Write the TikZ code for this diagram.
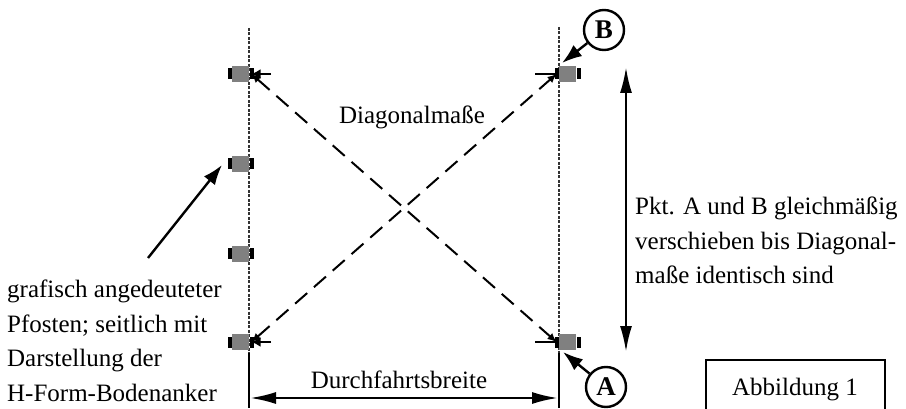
\documentclass[tikz,border=0pt]{standalone}
\usepackage{fontspec}
\setmainfont{Liberation Serif}
\usetikzlibrary{arrows.meta}
\tikzset{
  postbody/.style={shape=rectangle,fill=black!50,draw=none,minimum width=17pt,minimum height=16pt,inner sep=0pt},
  postfoot/.style={shape=rectangle,fill=black,draw=none,minimum width=4pt,minimum height=11pt,inner sep=0pt},
  guide/.style={draw=black!80,line width=1.2pt,dash pattern=on 3pt off 1.5pt},
  rail/.style={draw=black,line width=2.6pt},
  diag/.style={draw=black,line width=2pt,dash pattern=on 16pt off 9pt,{Latex[length=9pt,width=8pt]}-{Latex[length=9pt,width=8pt]}},
  tick/.style={draw=black,line width=2.6pt,-{Latex[length=9pt,width=10pt]}},
  pointer/.style={draw=black,line width=2.4pt,-{Latex[length=20pt,width=14pt]}},
  span/.style={draw=black,line width=2.4pt,{Latex[length=26pt,width=12pt]}-{Latex[length=26pt,width=12pt]}},
  marker/.style={shape=circle,draw=black,line width=2.4pt,minimum size=40pt,inner sep=0pt,font=\fontsize{27}{27}\selectfont\bfseries},
  label/.style={align=left,inner sep=0pt,font=\fontsize{25}{34.5}\selectfont}
}
\begin{document}
\begin{tikzpicture}[x=1pt,y=-1pt]
\useasboundingbox (0,0) rectangle (906,409);
\coordinate (topL) at (249,28);
\coordinate (topR) at (559,27);
\coordinate (midL) at (249,353);
\coordinate (midR) at (559,353);
\coordinate (botL) at (249,408);
\coordinate (botR) at (559,408);
\path [guide] (topL) -- (midL);
\path [guide] (topR) -- (midR);
\path [rail] (midL) -- (botL);
\path [rail] (midR) -- (botR);

\node[postfoot] (footL1a) at (229.5,74) {};
\node[postfoot] (footL1b) at (251.5,74) {};
\node[postbody] (postL1) at (240.5,74) {};
\node[postfoot] (footL2a) at (229.5,164) {};
\node[postfoot] (footL2b) at (251.5,164) {};
\node[postbody] (postL2) at (240.5,164) {};
\node[postfoot] (footL3a) at (229.5,254) {};
\node[postfoot] (footL3b) at (251.5,254) {};
\node[postbody] (postL3) at (240.5,254) {};
\node[postfoot] (footL4a) at (229.5,342) {};
\node[postfoot] (footL4b) at (251.5,342) {};
\node[postbody] (postL4) at (240.5,342) {};
\node[postfoot] (footR1a) at (556.5,74) {};
\node[postfoot] (footR1b) at (578.5,74) {};
\node[postbody] (postR1) at (567.5,74) {};
\node[postfoot] (footR4a) at (556.5,342) {};
\node[postfoot] (footR4b) at (578.5,342) {};
\node[postbody] (postR4) at (567.5,342) {};

\coordinate (tickL1) at (271,74);
\coordinate (tickL4) at (271,342);
\coordinate (tickR1) at (535,74);
\coordinate (tickR4) at (535,342);
\path [tick] (tickL1) -- (footL1b.center);
\path [tick] (tickL4) -- (footL4b.center);
\path [draw=black,line width=2.6pt] (tickR1) -- (footR1a.center);
\path [draw=black,line width=2.6pt] (tickR4) -- (footR4a.center);
\path [diag] (footL1b.center) -- (footR4a.center);
\path [diag] (footL4b.center) -- (footR1a.center);

\node[marker] (markerB) at (604,30) {B};
\node[marker] (markerA) at (606,387) {A};
\coordinate (tipB) at (562,63);
\coordinate (tipA) at (563,352);
\path [pointer] (markerB) -- (tipB);
\path [pointer] (markerA) -- (tipA);

\coordinate (spanTop) at (626,67);
\coordinate (spanBot) at (626,352);
\path [span] (spanTop) -- (spanBot);
\coordinate (widthL) at (250,398);
\coordinate (widthR) at (558,398);
\path [span] (widthL) -- (widthR);

\coordinate (postTail) at (148,258);
\coordinate (postTip) at (222,165);
\path [pointer] (postTail) -- (postTip);

\node[label] (diagonal) at (412,117) {Diagonalmaße};
\node[label] (width) at (399,380) {Durchfahrtsbreite};
\node[label,anchor=north west] (shift) at (635,197) {Pkt. A und B gleichmäßig\\verschieben bis Diagonal-\\maße identisch sind};
\node[label,anchor=north west] (post) at (7,280) {grafisch angedeuteter\\Pfosten; seitlich mit\\Darstellung der\\H-Form-Bodenanker};
\node[label,shape=rectangle,draw=black,line width=2pt,align=center,minimum width=179pt,minimum height=60pt] (figure) at (795,390) {Abbildung 1};
\end{tikzpicture}
\end{document}
